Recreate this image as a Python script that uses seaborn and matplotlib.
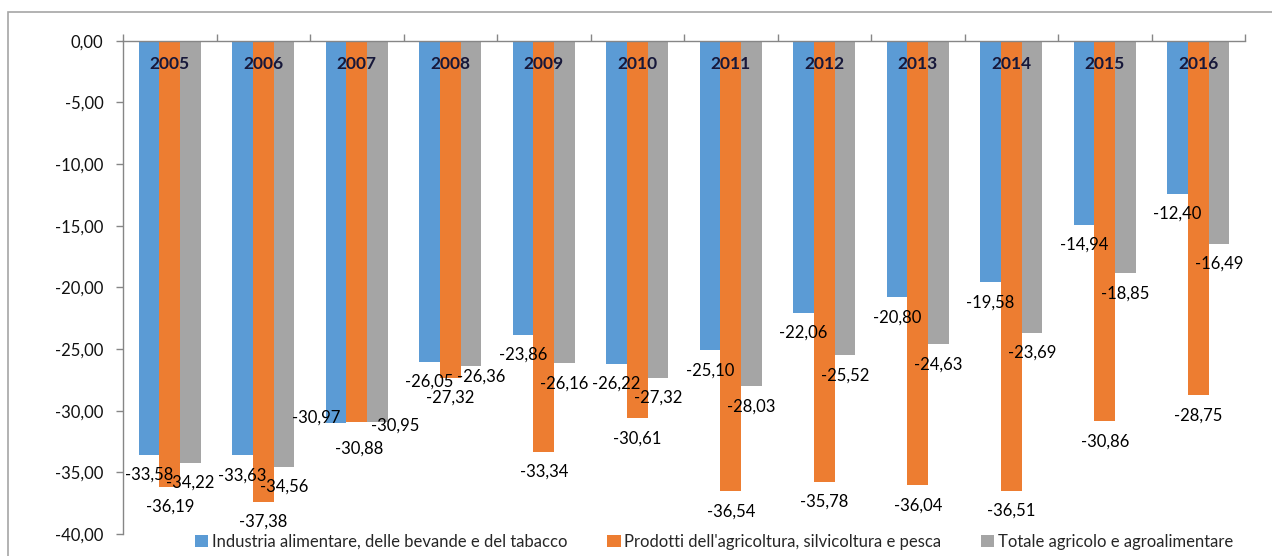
import matplotlib
matplotlib.use("Agg")
import matplotlib.pyplot as plt
from matplotlib.patches import Patch, Rectangle
from matplotlib.ticker import FuncFormatter, FixedLocator
import numpy as np
import pandas as pd
import seaborn as sns

# --- data -------------------------------------------------------------
anni = ["2005", "2006", "2007", "2008", "2009", "2010",
        "2011", "2012", "2013", "2014", "2015", "2016"]
serie = [
    "Industria alimentare, delle bevande e del tabacco",
    "Prodotti dell'agricoltura, silvicoltura e pesca",
    "Totale agricolo e agroalimentare",
]
industria = [-33.58, -33.63, -30.97, -26.05, -23.86, -26.22,
             -25.10, -22.06, -20.80, -19.58, -14.94, -12.40]
prodotti = [-36.19, -37.38, -30.88, -27.32, -33.34, -30.61,
            -36.54, -35.78, -36.04, -36.51, -30.86, -28.75]
totale = [-34.22, -34.56, -30.95, -26.36, -26.16, -27.32,
          -28.03, -25.52, -24.63, -23.69, -18.85, -16.49]
valori = [industria, prodotti, totale]
colori = ["#5B9BD5", "#ED7D31", "#A5A5A5"]

df = pd.DataFrame({
    "anno": np.tile(anni, len(serie)),
    "serie": np.repeat(serie, len(anni)),
    "valore": np.concatenate(valori),
})

# --- style ------------------------------------------------------------
sns.set_theme(style="white")
plt.rcParams["font.family"] = ["Lato", "DejaVu Sans"]

W, H, DPI = 1272, 556, 100
fig = plt.figure(figsize=(W / DPI, H / DPI), dpi=DPI)
fig.patch.set_facecolor("white")
ax = fig.add_axes([123 / W, 1 - 534 / H, (1245 - 123) / W, (534 - 40.7) / H])

sns.barplot(data=df, x="anno", y="valore", hue="serie", hue_order=serie,
            order=anni, palette=colori, saturation=1, width=0.667,
            errorbar=None, legend=False, linewidth=0, ax=ax)

ax.set_ylim(-40, 0)
ax.set_xlim(-0.5, len(anni) - 0.5)
ax.set_xlabel("")
ax.set_ylabel("")

# y axis: comma decimal format
ax.set_yticks(np.arange(-40, 0.1, 5))
ax.yaxis.set_major_formatter(
    FuncFormatter(lambda v, _: f"{abs(v) if v == 0 else v:.2f}".replace(".", ",")))
ax.tick_params(axis="y", length=5, width=1, color="#868686", pad=9,
               labelsize=12, labelcolor="#111111", left=True)

# x axis: category line at zero with boundary ticks, year labels inside
ax.xaxis.set_ticks_position("top")
ax.xaxis.set_major_locator(FixedLocator(np.arange(-0.5, len(anni), 1.0)))
ax.set_xticklabels([])
ax.tick_params(axis="x", length=5, width=1, color="#868686", top=True,
               bottom=False, direction="out")

for s in ["right", "bottom"]:
    ax.spines[s].set_visible(False)
for s in ["left", "top"]:
    ax.spines[s].set_color("#868686")
    ax.spines[s].set_linewidth(1)

for i, a in enumerate(anni):
    ax.annotate(a, xy=(i, 0), xytext=(0, -23), textcoords="offset pixels",
                ha="center", va="center", fontsize=12.5, fontweight="bold",
                color="#17183A")

# value labels below each bar end, with a few hand-placed ones
spostamenti = {
    (0, 2): (-20, -5),
    (1, 2): (2, 27),
    (2, 2): (18, 3),
    (2, 3): (10, 11),
}
for k, cont in enumerate(ax.containers):
    for j, barra in enumerate(cont):
        v = valori[k][j]
        xc = barra.get_x() + barra.get_width() / 2
        dx, dy = spostamenti.get((k, j), (0, 20))
        ax.annotate(f"{v:.2f}".replace(".", ","), xy=(xc, v),
                    xytext=(dx, -dy), textcoords="offset pixels",
                    ha="center", va="center", fontsize=12, color="#000000")

# legend along the bottom
maniglie = [Patch(facecolor=c, edgecolor="none") for c in colori]
fig.legend(maniglie, serie, loc="center left",
           bbox_to_anchor=(195 / W, 1 - 541.7 / H), ncol=3, frameon=False,
           fontsize=12, handlelength=0.8, handleheight=0.8,
           handletextpad=0.2, columnspacing=2.4, borderpad=0,
           borderaxespad=0)

# chart area border
fig.patches.append(Rectangle((8 / W, -0.05), 1.1, 1 - 12 / H + 0.05,
                             transform=fig.transFigure, fill=False,
                             edgecolor="#A6A6A6", linewidth=1.2))

fig.savefig("out.png", dpi=DPI)
